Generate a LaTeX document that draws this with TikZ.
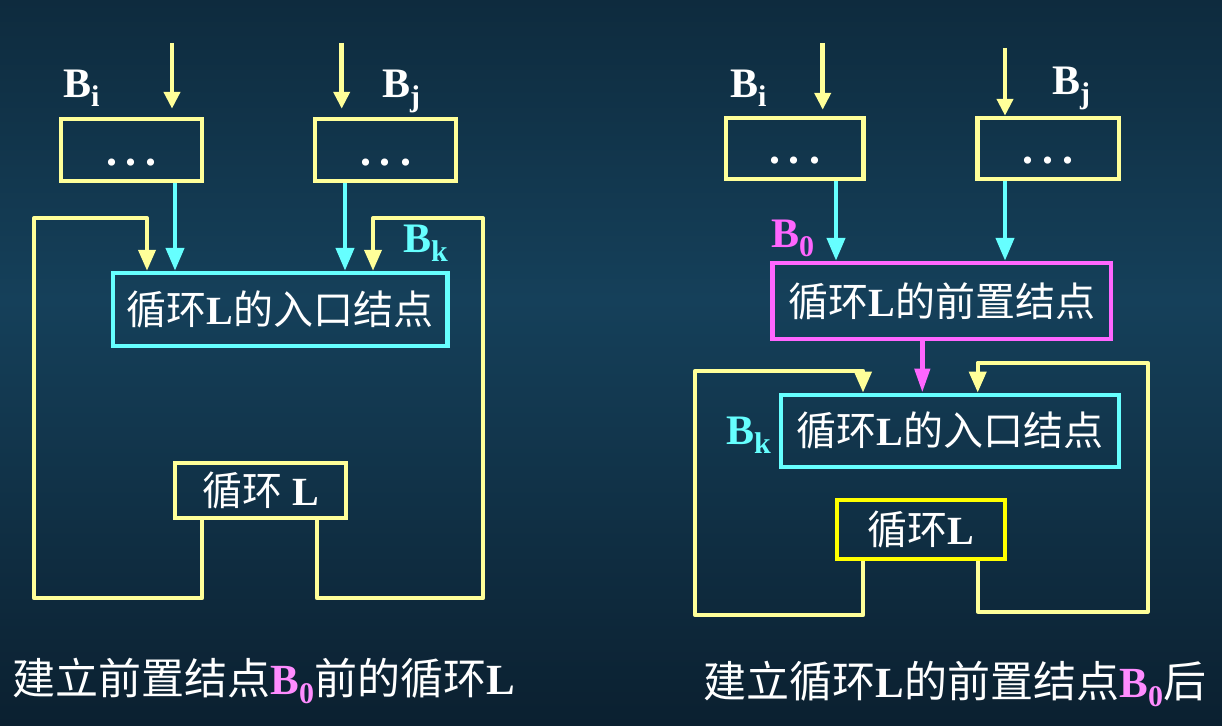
\documentclass[tikz,border=0pt]{standalone}
\usepackage{fontspec}
\setmainfont{Liberation Serif}
\newfontfamily\cjk{Noto Sans CJK SC}
\usetikzlibrary{arrows.meta}
\definecolor{lyel}{HTML}{FFFF99}
\definecolor{byel}{HTML}{FFFF00}
\definecolor{lcyan}{HTML}{66FFFF}
\definecolor{lmag}{HTML}{FF66FF}
\definecolor{lpink}{HTML}{FF8CFF}
\definecolor{bgtop}{HTML}{0E2B3E}
\definecolor{bgmid}{HTML}{15405A}
\definecolor{bgbot}{HTML}{0B2030}
\newcommand\zh[1]{{\cjk #1}}
\newcommand\lbl[2]{\textbf{B}\raisebox{-9pt}{\fontsize{30}{30}\selectfont\textbf{#2}}}
\newcommand\dotsbox{\textbf{.\hspace{9pt}.\hspace{9pt}.}}
\tikzset{
  box/.style={draw, line width=4.5pt, inner sep=0pt, text=white,
    font=\fontsize{40}{40}\selectfont},
  dotbox/.style={box, draw=lyel, font=\fontsize{44}{44}\selectfont, text height=30pt, text depth=0pt},
  lab/.style={anchor=base west, inner sep=0pt, font=\fontsize{42}{42}\selectfont},
  capt/.style={inner sep=0pt, text=white, font=\fontsize{43}{43}\selectfont},
  yin/.style={draw=lyel, line width=4.5pt, -{Triangle[width=16pt,length=17pt]}},
  carr/.style={draw=lcyan, line width=4.5pt, -{Triangle[width=18pt,length=23pt]}},
  marr/.style={draw=lmag, line width=4.5pt, -{Triangle[width=15pt,length=24pt]}},
  yloop/.style={draw=lyel, line width=4pt, line join=round, -{Triangle[width=17pt,length=21pt]}},
}
\begin{document}
\begin{tikzpicture}[x=1pt,y=-1pt]
\useasboundingbox (0,0) rectangle (1222,725);
\shade[top color=bgtop, bottom color=bgmid] (0,0) rectangle (1222,300);
\shade[top color=bgmid, bottom color=bgbot] (0,300) rectangle (1222,725);

% ---------------- left diagram ----------------
\node[dotbox, minimum width=141pt, minimum height=62pt] (lbi) at (131.5,150) {\dotsbox};
\node[dotbox, minimum width=141pt, minimum height=62pt] (lbj) at (385.5,150) {\dotsbox};
\node[box, draw=lcyan, minimum width=334.5pt, minimum height=73pt] (lentry) at (280,309.5)
  {\zh{循环}\textbf{L}\zh{的入口结点}};
\node[box, draw=lyel, minimum width=171pt, minimum height=55pt] (lloop) at (260.5,490.5)
  {\zh{循环} \textbf{L}};

\coordinate (lini) at (172,43);
\coordinate (linj) at (341.7,43);
\draw[yin] (lini) -- ([xshift=40.5pt,yshift=8pt]lbi.north);
\draw[yin] (linj) -- ([xshift=-43.8pt,yshift=8pt]lbj.north);

\node[lab, text=white] (lbil) at (63,97) {\lbl{B}{i}};
\node[lab, text=white] (lbjl) at (382,97) {\lbl{B}{j}};
\node[lab, text=lcyan] (lbkl) at (403,252) {\lbl{B}{k}};

\draw[carr] ([xshift=43.5pt]lbi.south) -- ([xshift=-105pt]lentry.north);
\draw[carr] ([xshift=-40.5pt]lbj.south) -- ([xshift=65pt]lentry.north);

\draw[yloop] ([xshift=-58.5pt]lloop.south) -- ++(0,78) -| (34,218) -| ([xshift=-133pt]lentry.north);
\draw[yloop] ([xshift=56.5pt]lloop.south) -- ++(0,78) -| (483,218) -| ([xshift=93pt]lentry.north);

\node[capt] (lcap) at (263.5,681) {\zh{建立前置结点}\textcolor{lpink}{\lbl{B}{0}}\zh{前的循环}\textbf{L}};

% ---------------- right diagram ----------------
\node[dotbox, minimum width=137.5pt, minimum height=61pt] (rbi) at (794.5,148.5) {\dotsbox};
\node[dotbox, minimum width=141.5pt, minimum height=61pt] (rbj) at (1048,148.5) {\dotsbox};
\node[box, draw=lmag, minimum width=338.3pt, minimum height=76pt] (rpre) at (941.7,301)
  {\zh{循环}\textbf{L}\zh{的前置结点}};
\node[box, draw=lcyan, minimum width=338.4pt, minimum height=72pt] (rentry) at (950,430.8)
  {\zh{循环}\textbf{L}\zh{的入口结点}};
\node[box, draw=byel, minimum width=168.4pt, minimum height=59pt] (rloop) at (921,529.3)
  {\zh{循环}\textbf{L}};

\coordinate (rini) at (822.7,43);
\coordinate (rinj) at (1005,48);
\draw[yin] (rini) -- ([xshift=28.2pt,yshift=6pt]rbi.north);
\draw[yin] (rinj) -- ([xshift=-43pt]rbj.north);

\node[lab, text=white] (rbil) at (730,97) {\lbl{B}{i}};
\node[lab, text=white] (rbjl) at (1052,94) {\lbl{B}{j}};
\node[lab, text=lmag] (rb0l) at (771,247.5) {\lbl{B}{0}};
\node[lab, text=lcyan] (rbkl) at (726,444.3) {\lbl{B}{k}};

\draw[carr] ([xshift=41.5pt]rbi.south) -- ([xshift=-105.7pt]rpre.north);
\draw[carr] ([xshift=-43pt]rbj.south) -- ([xshift=63.3pt]rpre.north);
\draw[marr] ([xshift=-19.4pt]rpre.south) -- ([xshift=-27.7pt]rentry.north);

\draw[yloop] ([xshift=-58pt]rloop.south) -- ++(0,54.2) -| (695.3,370.8) -| ([xshift=-87pt]rentry.north);
\draw[yloop] ([xshift=56.7pt]rloop.south) -- ++(0,50.5) -| (1147.7,362.7) -| ([xshift=27.7pt]rentry.north);

\node[capt] (rcap) at (955,684) {\zh{建立循环}\textbf{L}\zh{的前置结点}\textcolor{lpink}{\lbl{B}{0}}\zh{后}};
\end{tikzpicture}
\end{document}
